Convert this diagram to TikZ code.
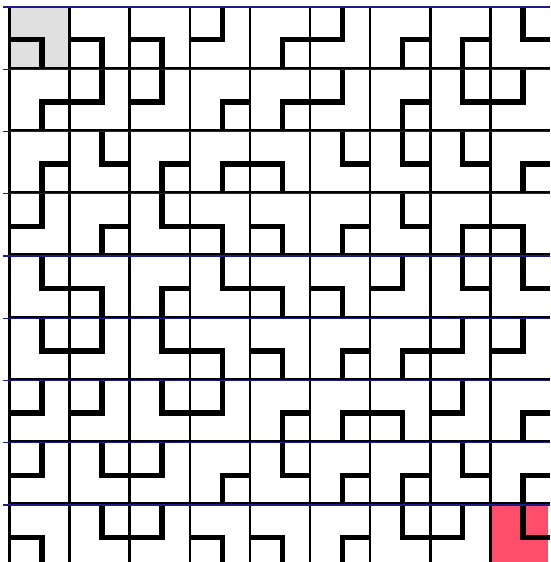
\documentclass[tikz,border=0pt]{standalone}
\definecolor{gridblue}{RGB}{28,28,140}
\definecolor{startgray}{RGB}{224,224,224}
\definecolor{goalred}{RGB}{255,78,108}
\tikzset{
  tileline/.style={line width=5.5pt, line join=miter, line cap=butt, black},
  cellborder/.style={line width=2.6pt, black},
  rowline/.style={line width=1.3pt, gridblue},
}
\newcommand\tileWS{\draw[tileline] (w) -- (c) -- (s);}
\newcommand\tileNW{\draw[tileline] (n) -- (c) -- (w);}
\newcommand\tileES{\draw[tileline] (e) -- (c) -- (s);}
\newcommand\tileNE{\draw[tileline] (n) -- (c) -- (e);}
\begin{document}
\begin{tikzpicture}[x=1pt,y=1pt]
\useasboundingbox (0,0) rectangle (550,-562);
\clip (0,0) rectangle (550,-562);
\fill[white] (0,0) rectangle (550,-562);
\fill[startgray] (11,-7) rectangle (68,-68);
\fill[goalred] (490,-505) rectangle (548,-562);
% cell borders
\foreach \j in {0,...,8} {
  \draw[cellborder] ({9.5+60.1*\j},-7) -- ({9.5+60.1*\j},-562);
}
\foreach \i in {1,...,8} {
  \draw[cellborder] (9,{-(7+62.25*\i)+1.4}) -- (550,{-(7+62.25*\i)+1.4});
}
% tiles
\foreach \row [count=\i from 0] in {
  {WS,WS,WS,NW,ES,NW,ES,ES,NE},
  {ES,NW,NW,ES,ES,NW,ES,NE,NW},
  {ES,NE,ES,ES,WS,NE,NE,NE,ES},
  {NW,ES,NE,WS,WS,ES,NE,ES,WS},
  {NE,WS,ES,NE,WS,WS,NW,NE,NE},
  {NE,NW,NE,WS,WS,ES,ES,NW,NW},
  {NW,NW,NE,NW,ES,ES,WS,NW,ES},
  {NW,NE,NW,ES,NE,ES,ES,NE,ES},
  {WS,NE,NW,WS,WS,ES,NE,NW,NE}} {
  \foreach \code [count=\j from 0] in \row {
    \pgfmathsetmacro\L{9+60.1*\j}
    \pgfmathsetmacro\R{9+60.1*(\j+1)}
    \pgfmathsetmacro\T{-(7+62.25*\i)}
    \pgfmathsetmacro\B{-(7+62.25*(\i+1))}
    \pgfmathsetmacro\cx{\L+33}
    \pgfmathsetmacro\cy{\T-32.5}
    \coordinate (c) at (\cx,\cy);
    \coordinate (n) at (\cx,\T);
    \coordinate (s) at (\cx,\B);
    \coordinate (w) at (\L,\cy);
    \coordinate (e) at (\R,\cy);
    \csname tile\code\endcsname
  }
}
% blue row lines
\foreach \i in {0,...,8} {
  \draw[rowline] (3,{-(7+62.25*\i)}) -- (550,{-(7+62.25*\i)});
}
\end{tikzpicture}
\end{document}
